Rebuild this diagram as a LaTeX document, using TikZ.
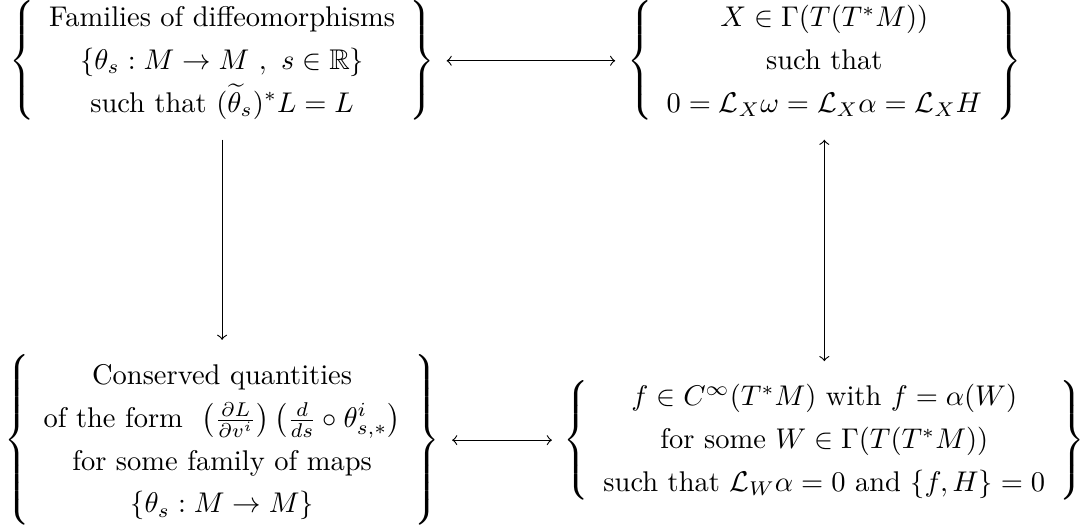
\documentclass[tikz,border=0pt]{standalone}
\usepackage{amsmath}
\usepackage{amssymb}
\usepackage{tikz}

\renewcommand{\arraystretch}{1.25}
\setlength{\arraycolsep}{5pt}
\tikzset{setbox/.style={inner xsep=4pt, inner ysep=5pt}}

\begin{document}
\begin{tikzpicture}[>=to]
  \useasboundingbox (0,0) rectangle (13.46,6.55);
  % the four sets, columns at x=2.74 and x=10.17
  \node[setbox] (symm) at (2.74,5.80) {$\left\{\begin{array}{c}
      \text{Families of diffeomorphisms}\\
      \{\theta_s : M \to M\ ,\ s\in\mathbb{R}\}\\
      \text{such that } (\widetilde{\theta}_s)^*L = L
    \end{array}\right\}$};
  \node[setbox] (vect) at (10.17,5.80) {$\left\{\begin{array}{c}
      X\in\Gamma(T(T^*M))\\
      \text{such that}\\
      0=\mathcal{L}_X\omega=\mathcal{L}_X\alpha=\mathcal{L}_XH
    \end{array}\right\}$};
  \node[setbox] (cons) at (2.74,1.12) {$\left\{\begin{array}{c}
      \text{Conserved quantities}\\
      \text{of the form }\,\left(\frac{\partial L}{\partial v^i}\right)\left(\frac{d}{ds}\circ\theta^i_{s,*}\right)\\
      \text{for some family of maps}\\
      \{\theta_s : M\to M\}
    \end{array}\right\}$};
  \node[setbox] (func) at (10.17,1.12) {$\left\{\begin{array}{c}
      f\in C^\infty(T^*M)\text{ with }f=\alpha(W)\\
      \text{for some }W\in\Gamma(T(T^*M))\\
      \text{such that }\mathcal{L}_W\alpha=0\text{ and }\{f,H\}=0
    \end{array}\right\}$};
  \draw[<->] (symm) -- (vect);
  \draw[->] (symm) -- (cons);
  \draw[<->] (vect) -- (func);
  \draw[<->] (cons) -- (func);
\end{tikzpicture}
\end{document}
